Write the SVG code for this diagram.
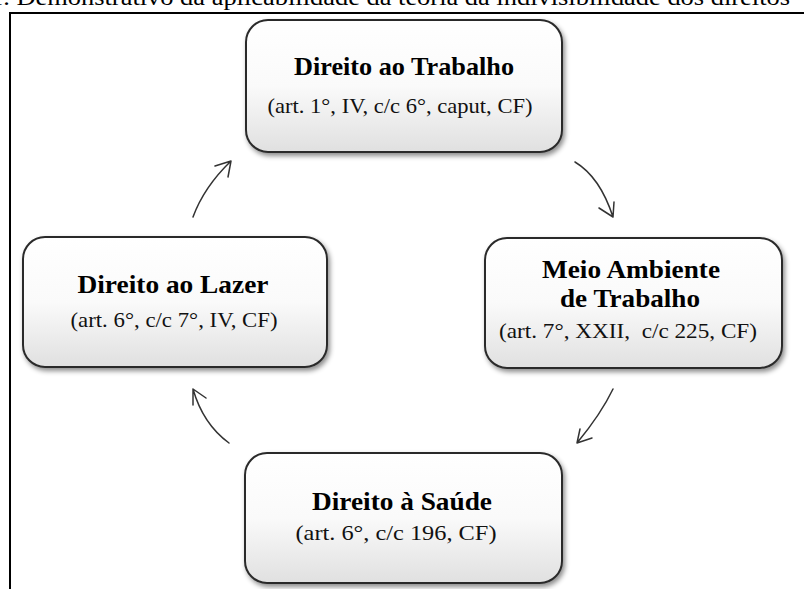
<svg xmlns="http://www.w3.org/2000/svg" width="804" height="589" viewBox="0 0 804 589">
<defs>
<linearGradient id="g" x1="0" y1="0" x2="0" y2="1">
<stop offset="0" stop-color="#ffffff"/>
<stop offset="0.5" stop-color="#fafafa"/>
<stop offset="1" stop-color="#e0e0e0"/>
</linearGradient>
<filter id="sh" x="-10%" y="-10%" width="125%" height="130%">
<feDropShadow dx="2" dy="3" stdDeviation="2.5" flood-color="#000" flood-opacity="0.45"/>
</filter>
</defs>
<style>
.box{fill:url(#g);stroke:#2b2b2b;stroke-width:2;filter:url(#sh)}
.t{font-family:"Liberation Serif","Times New Roman",serif;font-weight:bold;font-size:26px;fill:#000;text-anchor:middle}
.s{font-family:"Liberation Serif","Times New Roman",serif;font-size:22px;fill:#111;text-anchor:middle}
.c{font-family:"Liberation Serif","Times New Roman",serif;font-size:24px;fill:#000}
.a{fill:none;stroke:#333;stroke-width:1.5;stroke-linecap:round;stroke-linejoin:round}
</style>
<rect width="804" height="589" fill="#fff"/>
<text class="c" x="-10" y="5" textLength="800" lengthAdjust="spacingAndGlyphs">1. Demonstrativo da aplicabilidade da teoria da indivisibilidade dos direitos</text>
<path d="M10 589 V13 H804" fill="none" stroke="#000" stroke-width="2"/>
<g id="trabalho">
<rect class="box" x="246" y="20" width="316" height="132" rx="22"/>
<text class="t" x="404" y="75" textLength="220" lengthAdjust="spacingAndGlyphs">Direito ao Trabalho</text>
<text class="s" x="400" y="113" textLength="265" lengthAdjust="spacingAndGlyphs">(art. 1°, IV, c/c 6°, caput, CF)</text>
</g>
<g id="meio-ambiente">
<rect class="box" x="485" y="238" width="297" height="130" rx="22"/>
<text class="t" x="631" y="278" textLength="178" lengthAdjust="spacingAndGlyphs">Meio Ambiente</text>
<text class="t" x="630" y="307" textLength="140" lengthAdjust="spacingAndGlyphs">de Trabalho</text>
<text class="s" x="628" y="338" textLength="258" lengthAdjust="spacingAndGlyphs" xml:space="preserve">(art. 7°, XXII,  c/c 225, CF)</text>
</g>
<g id="saude">
<rect class="box" x="245" y="453" width="317" height="130" rx="22"/>
<text class="t" x="402" y="510" textLength="180" lengthAdjust="spacingAndGlyphs">Direito à Saúde</text>
<text class="s" x="396" y="540" textLength="201" lengthAdjust="spacingAndGlyphs">(art. 6°, c/c 196, CF)</text>
</g>
<g id="lazer">
<rect class="box" x="23" y="237" width="304" height="130" rx="22"/>
<text class="t" x="173" y="293" textLength="191" lengthAdjust="spacingAndGlyphs">Direito ao Lazer</text>
<text class="s" x="174" y="327" textLength="207" lengthAdjust="spacingAndGlyphs">(art. 6°, c/c 7°, IV, CF)</text>
</g>
<g id="connectors">
<path class="a" d="M193 217 Q204 187 231 161 M215 166 L231 161 L228 177"/>
<path class="a" d="M575 162 Q600 177 613 217 M599 208 L613 217 L614 202"/>
<path class="a" d="M613 389 Q601 414 577 443 M580 429 L577 443 L592 438"/>
<path class="a" d="M229 443 Q203 424 193 389 M193 405 L193 389 L206 398"/>
</g>
</svg>
